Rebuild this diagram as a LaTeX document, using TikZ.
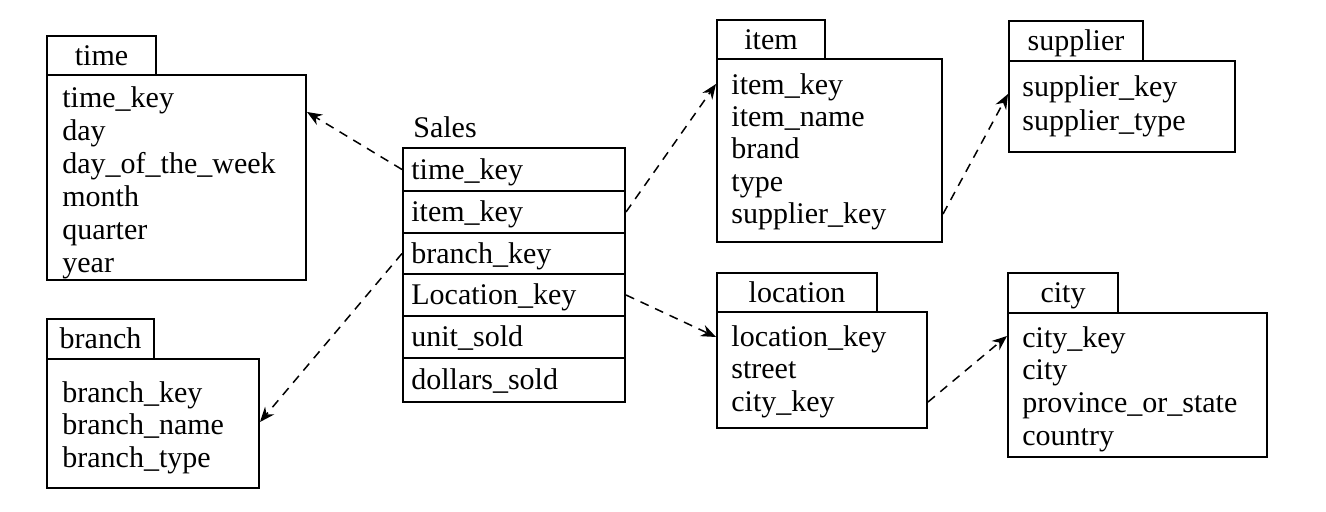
\documentclass[tikz,border=0pt]{standalone}
\usepackage{fontspec}
\setmainfont{Liberation Serif}
\usetikzlibrary{arrows.meta,fit}
\begin{document}
\begin{tikzpicture}[x=0.5pt,y=-0.5pt,
  frame/.style={draw, line width=1pt, inner sep=0pt},
  txt/.style={font=\fontsize{15}{17}\selectfont, inner sep=0pt, text height=12.5pt, text depth=2.5pt},
  lbl/.style={txt, anchor=west},
  conn/.style={dash pattern=on 4.5pt off 3.5pt, line width=0.75pt, -{Stealth[length=7.5pt,width=6pt]}}]
\useasboundingbox (0,0) rectangle (1326,512);

% time
\node[frame, fit={(47,36)(156,75)}] (timetab) {};
\node[txt] (timelbl) at (timetab.center) {time};
\node[frame, fit={(47,75)(306,280)}] (time) {};
\node[lbl] (t1) at (62,98) {time\_key};
\node[lbl] (t2) at (62,131) {day};
\node[lbl] (t3) at (62,164) {day\_of\_the\_week};
\node[lbl] (t4) at (62,197) {month};
\node[lbl] (t5) at (62,230) {quarter};
\node[lbl] (t6) at (62,263) {year};

% branch
\node[frame, fit={(47,319)(154,359)}] (branchtab) {};
\node[txt] (branchlbl) at (branchtab.center) {branch};
\node[frame, fit={(47,359)(259,488)}] (branch) {};
\node[lbl] (b1) at (62,393) {branch\_key};
\node[lbl] (b2) at (62,425) {branch\_name};
\node[lbl] (b3) at (62,457) {branch\_type};

% Sales
\node[txt, anchor=west] (saleslbl) at (413,128) {Sales};
\node[frame, fit={(403,148)(625,191)}] (s1) {};
\node[frame, fit={(403,191)(625,233)}] (s2) {};
\node[frame, fit={(403,233)(625,274)}] (s3) {};
\node[frame, fit={(403,274)(625,316)}] (s4) {};
\node[frame, fit={(403,316)(625,358)}] (s5) {};
\node[frame, fit={(403,358)(625,402)}] (s6) {};
\node[lbl] (s1t) at (411,170) {time\_key};
\node[lbl] (s2t) at (411,212) {item\_key};
\node[lbl] (s3t) at (411,254) {branch\_key};
\node[lbl] (s4t) at (411,295) {Location\_key};
\node[lbl] (s5t) at (411,337) {unit\_sold};
\node[lbl] (s6t) at (411,380) {dollars\_sold};

% item
\node[frame, fit={(717,20)(825,59)}] (itemtab) {};
\node[txt] (itemlbl) at (itemtab.center) {item};
\node[frame, fit={(717,59)(942,242)}] (item) {};
\node[lbl] (i1) at (731,85) {item\_key};
\node[lbl] (i2) at (731,117) {item\_name};
\node[lbl] (i3) at (731,149) {brand};
\node[lbl] (i4) at (731,182) {type};
\node[lbl] (i5) at (731,214) {supplier\_key};

% supplier
\node[frame, fit={(1009,21)(1143,61)}] (suptab) {};
\node[txt] (suplbl) at (suptab.center) {supplier};
\node[frame, fit={(1009,61)(1235,152)}] (supplier) {};
\node[lbl] (p1) at (1022,87) {supplier\_key};
\node[lbl] (p2) at (1022,121) {supplier\_type};

% location
\node[frame, fit={(717,273)(877,312)}] (loctab) {};
\node[txt] (loclbl) at (loctab.center) {location};
\node[frame, fit={(717,312)(927,428)}] (location) {};
\node[lbl] (l1) at (731,337) {location\_key};
\node[lbl] (l2) at (731,369) {street};
\node[lbl] (l3) at (731,402) {city\_key};

% city
\node[frame, fit={(1008,273)(1118,313)}] (citytab) {};
\node[txt] (citylbl) at (citytab.center) {city};
\node[frame, fit={(1008,313)(1267,457)}] (city) {};
\node[lbl] (c1) at (1022,338) {city\_key};
\node[lbl] (c2) at (1022,370) {city};
\node[lbl] (c3) at (1022,403) {province\_or\_state};
\node[lbl] (c4) at (1022,435) {country};

% connectors
\draw[conn] (s1.west) -- ([yshift=-19pt]time.north east);
\draw[conn] (s3.west) -- ([yshift=-32pt]branch.north east);
\draw[conn] (s2.east) -- ([yshift=-13pt]item.north west);
\draw[conn] (s4.east) -- ([yshift=-13pt]location.north west);
\draw[conn] ([yshift=-78pt]item.north east) -- ([yshift=-17pt]supplier.north west);
\draw[conn] ([yshift=-45.5pt]location.north east) -- ([yshift=-12pt]city.north west);
\end{tikzpicture}
\end{document}
